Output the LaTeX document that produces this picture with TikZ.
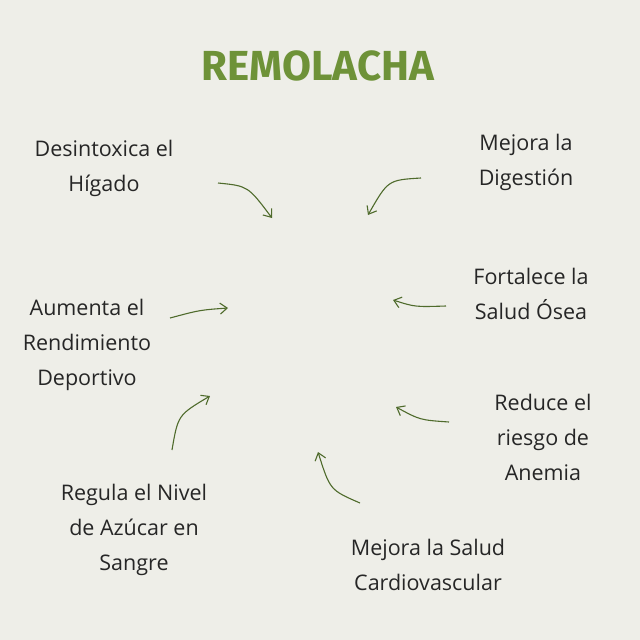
\documentclass[tikz,border=0pt]{standalone}
\usepackage{fontspec}
\setmainfont{Open Sans}
\newfontfamily\titlefont{Fira Sans}
\usetikzlibrary{arrows.meta}
\definecolor{bg}{HTML}{EEEEE8}
\definecolor{ttl}{HTML}{6E9238}
\definecolor{arr}{HTML}{4F6B2C}
\tikzset{
 lbl/.style={align=center,font=\fontsize{21.5}{35}\selectfont,text=black!85},
 arw/.style={draw=arr,line width=1.1pt,-{Straight Barb[length=7pt,width=11pt]}}
}
\begin{document}
\begin{tikzpicture}[x=1pt,y=-1pt]
\fill[bg] (0,0) rectangle (640,640);
\useasboundingbox (0,0) rectangle (640,640);
\node[font=\titlefont\bfseries\fontsize{42}{42}\selectfont,text=ttl] (t) at (318,66) {REMOLACHA};
\node[lbl] (a) at (104,168) {Desintoxica el\\Hígado};
\node[lbl] (b) at (526,162) {Mejora la\\Digestión};
\node[lbl] (c) at (87,345) {Aumenta el\\Rendimiento\\Deportivo};
\node[lbl] (d) at (531,294) {Fortalece la\\Salud Ósea};
\node[lbl] (e) at (543,437) {Reduce el\\riesgo de\\Anemia};
\node[lbl] (f) at (134,530) {Regula el Nivel\\de Azúcar en\\Sangre};
\node[lbl] (g) at (428,565) {Mejora la Salud\\Cardiovascular};
\coordinate (a1) at (218,183); \coordinate (a2) at (272,218);
\coordinate (b1) at (421,178); \coordinate (b2) at (368,215);
\coordinate (c1) at (170,318); \coordinate (c2) at (228,308);
\coordinate (d1) at (446,306); \coordinate (d2) at (393,300);
\coordinate (e1) at (449,422); \coordinate (e2) at (396,407);
\coordinate (f1) at (172,450); \coordinate (f2) at (210,396);
\coordinate (g1) at (360,503); \coordinate (g2) at (318,452);
\draw[arw] (a1) .. controls (248,186) .. (a2);
\draw[arw] (b1) .. controls (388,180) .. (b2);
\draw[arw] (c1) .. controls (200,310) .. (c2);
\draw[arw] (d1) .. controls (415,307) .. (d2);
\draw[arw] (e1) .. controls (420,420) .. (e2);
\draw[arw] (f1) .. controls (178,415) .. (f2);
\draw[arw] (g1) .. controls (330,490) .. (g2);
\end{tikzpicture}
\end{document}
